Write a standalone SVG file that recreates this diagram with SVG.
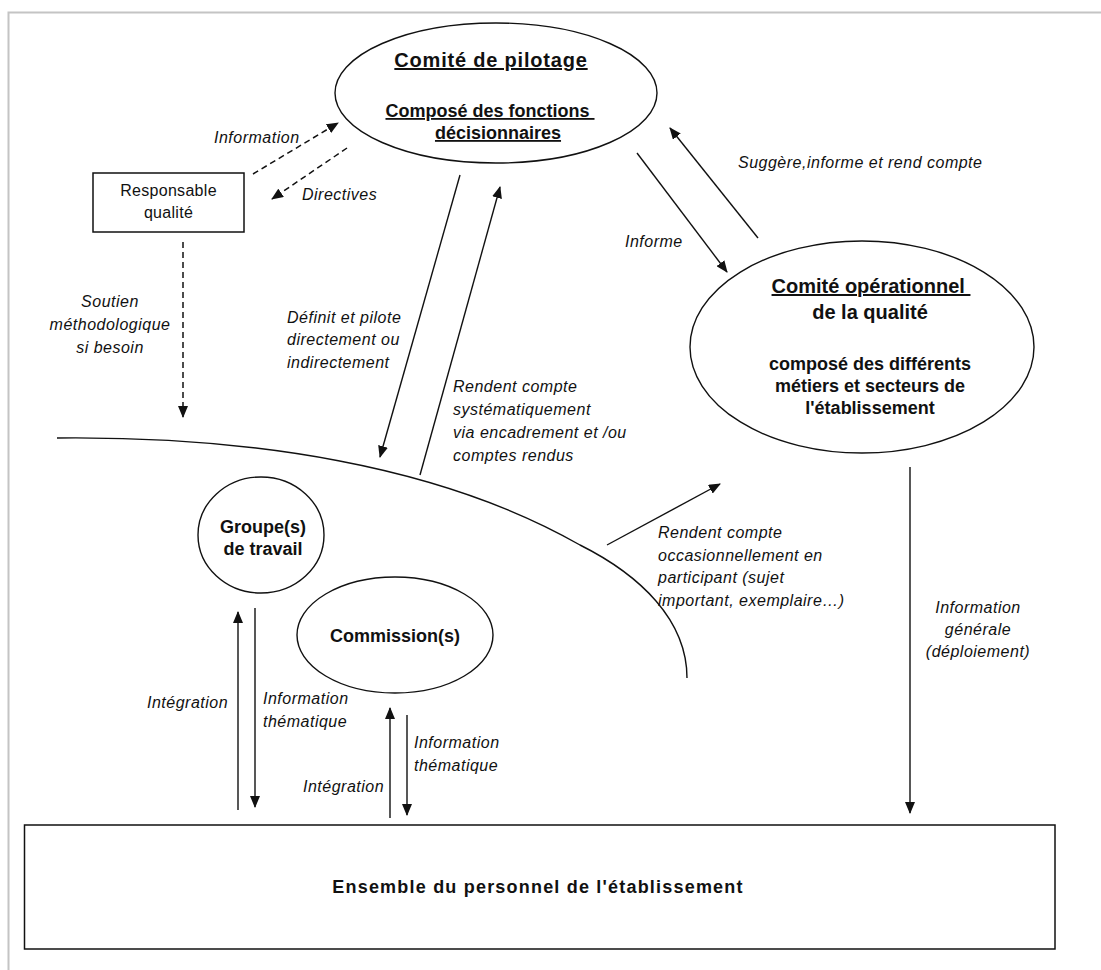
<svg xmlns="http://www.w3.org/2000/svg" width="1101" height="970" viewBox="0 0 1101 970">
<defs>
<style>
.bg{fill:#fff}
.frame{stroke:#c4c4c4;stroke-width:2;fill:none}
.node{fill:none;stroke:#111;stroke-width:1.4}
.box{fill:#fff;stroke:#111;stroke-width:1.5}
.conn{stroke:#111;stroke-width:1.4;fill:none;marker-end:url(#ah)}
.dash{stroke:#111;stroke-width:1.5;fill:none;stroke-dasharray:6 4;marker-end:url(#ah)}
.plain{stroke:#111;stroke-width:1.4;fill:none}
.lbl{font-family:"Liberation Sans",Arial,sans-serif;font-style:italic;font-size:16px;letter-spacing:0.5px;fill:#111}
.b{font-family:"Liberation Sans",Arial,sans-serif;font-weight:bold;fill:#111}
.r{font-family:"Liberation Sans",Arial,sans-serif;font-size:16px;fill:#111;letter-spacing:0.3px}
.u{text-decoration:underline}
</style>
<marker id="ah" viewBox="0 0 12 10" markerWidth="12" markerHeight="10" refX="11" refY="5" orient="auto" markerUnits="userSpaceOnUse">
<path d="M0,0 L12,5 L0,10 z" fill="#111" stroke="none"/>
</marker>
</defs>
<rect class="bg" x="0" y="0" width="1101" height="970"/>
<path class="frame" d="M8.5,970 L8.5,12.5 L1101,12.5"/>

<g id="connectors">
<path class="dash" d="M253,174 L338,123"/>
<path class="dash" d="M347,148 L272,199"/>
<path class="dash" d="M183,242 L183,417"/>
<path class="conn" d="M460,175 L380,457"/>
<path class="conn" d="M420,475 L500,187"/>
<path class="conn" d="M637,153 L727,272"/>
<path class="conn" d="M758,238 L670,128"/>
<path class="conn" d="M607,545 L720,484"/>
<path class="conn" d="M910,467 L910,813"/>
<path class="conn" d="M238,810 L238,612"/>
<path class="conn" d="M255,608 L255,807"/>
<path class="conn" d="M390,818 L390,708"/>
<path class="conn" d="M407,715 L407,815"/>
</g>

<g id="boundary">
<path class="plain" d="M57,438 C250,436 440,465 580,545 C640,575 687,620 687,678"/>
</g>

<g id="comite-pilotage">
<ellipse class="node" cx="496" cy="93" rx="161" ry="70"/>
<text class="b u" x="491" y="67" font-size="20" letter-spacing="0.8" text-anchor="middle">Comité de pilotage</text>
<text class="b u" x="490" y="117" font-size="18" text-anchor="middle" xml:space="preserve">Composé des fonctions </text>
<text class="b u" x="498" y="139" font-size="18" text-anchor="middle">décisionnaires</text>
</g>

<g id="responsable-qualite">
<rect class="box" x="93" y="173" width="151" height="59"/>
<text class="r" x="168.5" y="196" text-anchor="middle">Responsable</text>
<text class="r" x="168.5" y="218" text-anchor="middle">qualité</text>
</g>

<g id="comite-operationnel">
<ellipse class="node" cx="862" cy="347" rx="172" ry="106"/>
<text class="b u" x="871" y="293" font-size="20" text-anchor="middle" xml:space="preserve">Comité opérationnel </text>
<text class="b" x="870" y="319" font-size="20" text-anchor="middle">de la qualité</text>
<text class="b" x="870" y="370" font-size="18" text-anchor="middle">composé des différents</text>
<text class="b" x="870" y="392" font-size="18" text-anchor="middle">métiers et secteurs de</text>
<text class="b" x="870" y="414" font-size="18" text-anchor="middle">l'établissement</text>
</g>

<g id="groupes-travail">
<ellipse class="node" cx="261" cy="535" rx="63" ry="58"/>
<text class="b" x="263" y="533" font-size="18" text-anchor="middle">Groupe(s)</text>
<text class="b" x="263" y="555" font-size="18" text-anchor="middle">de travail</text>
</g>

<g id="commissions">
<ellipse class="node" cx="395" cy="635" rx="98" ry="58"/>
<text class="b" x="395" y="642" font-size="18" text-anchor="middle">Commission(s)</text>
</g>

<g id="ensemble-personnel">
<rect class="box" x="24.5" y="825" width="1030.5" height="124"/>
<text class="b" x="538" y="893" font-size="18" letter-spacing="1.2" text-anchor="middle">Ensemble du personnel de l'établissement</text>
</g>

<g id="labels">
<text class="lbl" x="214" y="143">Information</text>
<text class="lbl" x="302" y="200">Directives</text>
<text class="lbl" text-anchor="middle" x="110" y="307">Soutien</text>
<text class="lbl" text-anchor="middle" x="110" y="330">méthodologique</text>
<text class="lbl" text-anchor="middle" x="110" y="353">si besoin</text>
<text class="lbl" x="287" y="323">Définit et pilote</text>
<text class="lbl" x="287" y="345">directement ou</text>
<text class="lbl" x="287" y="368">indirectement</text>
<text class="lbl" x="453" y="392">Rendent compte</text>
<text class="lbl" x="453" y="415">systématiquement</text>
<text class="lbl" x="453" y="438">via encadrement et /ou</text>
<text class="lbl" x="453" y="461">comptes rendus</text>
<text class="lbl" x="625" y="247">Informe</text>
<text class="lbl" x="738" y="168">Suggère,informe et rend compte</text>
<text class="lbl" x="658" y="538">Rendent compte</text>
<text class="lbl" x="658" y="561">occasionnellement en</text>
<text class="lbl" x="658" y="583">participant (sujet</text>
<text class="lbl" x="658" y="606">important, exemplaire…)</text>
<text class="lbl" text-anchor="middle" x="978" y="613">Information</text>
<text class="lbl" text-anchor="middle" x="978" y="635">générale</text>
<text class="lbl" text-anchor="middle" x="978" y="657">(déploiement)</text>
<text class="lbl" x="147" y="708">Intégration</text>
<text class="lbl" x="263" y="704">Information</text>
<text class="lbl" x="263" y="727">thématique</text>
<text class="lbl" x="303" y="792">Intégration</text>
<text class="lbl" x="414" y="748">Information</text>
<text class="lbl" x="414" y="771">thématique</text>
</g>
</svg>
